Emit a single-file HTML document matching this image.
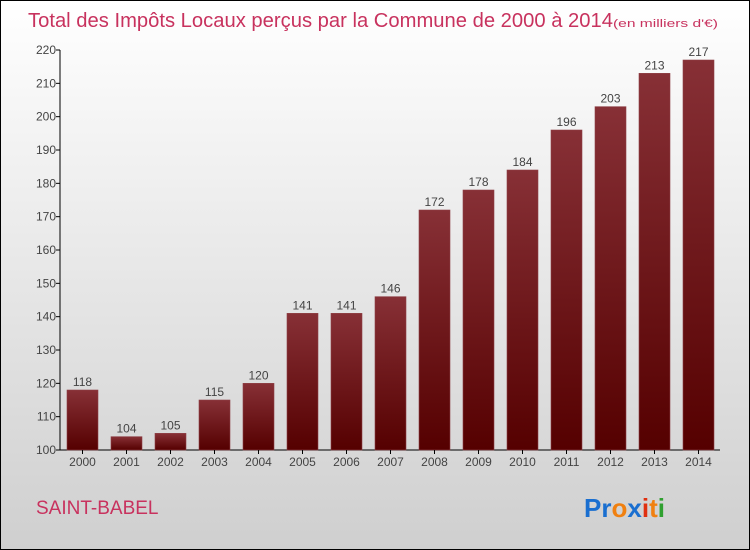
<!DOCTYPE html>
<html><head><meta charset="utf-8"><style>
body{margin:0}
#c{width:748px;height:548px;border:1px solid #000;background:linear-gradient(#ffffff,#cfcfcf);position:relative;font-family:"Liberation Sans",sans-serif;overflow:hidden}
</style></head><body>
<div id="c">
<svg width="748" height="548">
<defs><linearGradient id="g" x1="0" y1="0" x2="0" y2="1"><stop offset="0" stop-color="#873036"/><stop offset="1" stop-color="#550000"/></linearGradient></defs>
<text x="27" y="26" font-size="20" fill="#c8325e" textLength="585" lengthAdjust="spacingAndGlyphs">Total des Impôts Locaux perçus par la Commune de 2000 à 2014</text>
<text x="612" y="26" font-size="11" fill="#c8325e" textLength="105" lengthAdjust="spacingAndGlyphs">(en milliers d'€)</text>
<g id="plot"></g>
<text x="35" y="513" font-size="19" fill="#c8325e">SAINT-BABEL</text>
<text x="583" y="516" font-size="26" font-weight="bold"><tspan fill="#1a6fd0">Pr</tspan><tspan fill="#f08010">o</tspan><tspan fill="#1a6fd0">x</tspan><tspan fill="#e03010">i</tspan><tspan fill="#f08010">t</tspan><tspan fill="#30a030">i</tspan></text>
</svg></div>
<script>
const years=["2000","2001","2002","2003","2004","2005","2006","2007","2008","2009","2010","2011","2012","2013","2014"];
const values=[118,104,105,115,120,141,141,146,172,178,184,196,203,213,217];
const yTicks=[100,110,120,130,140,150,160,170,180,190,200,210,220];
const ns="http://www.w3.org/2000/svg",p=document.getElementById('plot');
const X0=59,slot=44,Y0=449,ppu=400/120;
const y=v=>Y0-(v-100)*ppu;
function mk(t,a,txt){const e=document.createElementNS(ns,t);for(const k in a)e.setAttribute(k,a[k]);if(txt!=null)e.textContent=txt;p.appendChild(e);return e;}
let e=mk('line',{x1:X0,y1:y(220),x2:X0,y2:Y0,stroke:'#000'});


e=mk('line',{x1:X0,y1:Y0,x2:X0+slot*years.length,y2:Y0,stroke:'#000'});


yTicks.forEach(t=>{
 e=mk('line',{x1:X0-4,y1:y(t),x2:X0,y2:y(t),stroke:'#000'});
 
 
 e=mk('text',{x:X0-4,y:y(t)+4,'font-size':12,fill:'#444','text-anchor':'end'},t);
 
 
});
years.forEach((yr,i)=>{
 const cx=X0+slot*i+slot/2+0.5,v=values[i];
 e=mk('rect',{x:cx-15.5,y:y(v),width:31,height:Y0-y(v),fill:'url(#g)',stroke:'#8e4046','stroke-width':0.6});
 
 
 e=mk('text',{x:cx,y:y(v)-4,'font-size':12,fill:'#444','text-anchor':'middle'},v);
 
 
 e=mk('line',{x1:cx,y1:Y0,x2:cx,y2:Y0+4,stroke:'#000'});
 
 
 e=mk('text',{x:cx,y:Y0+16,'font-size':12,fill:'#444','text-anchor':'middle'},yr);
 
 
});
</script>
</body></html>
